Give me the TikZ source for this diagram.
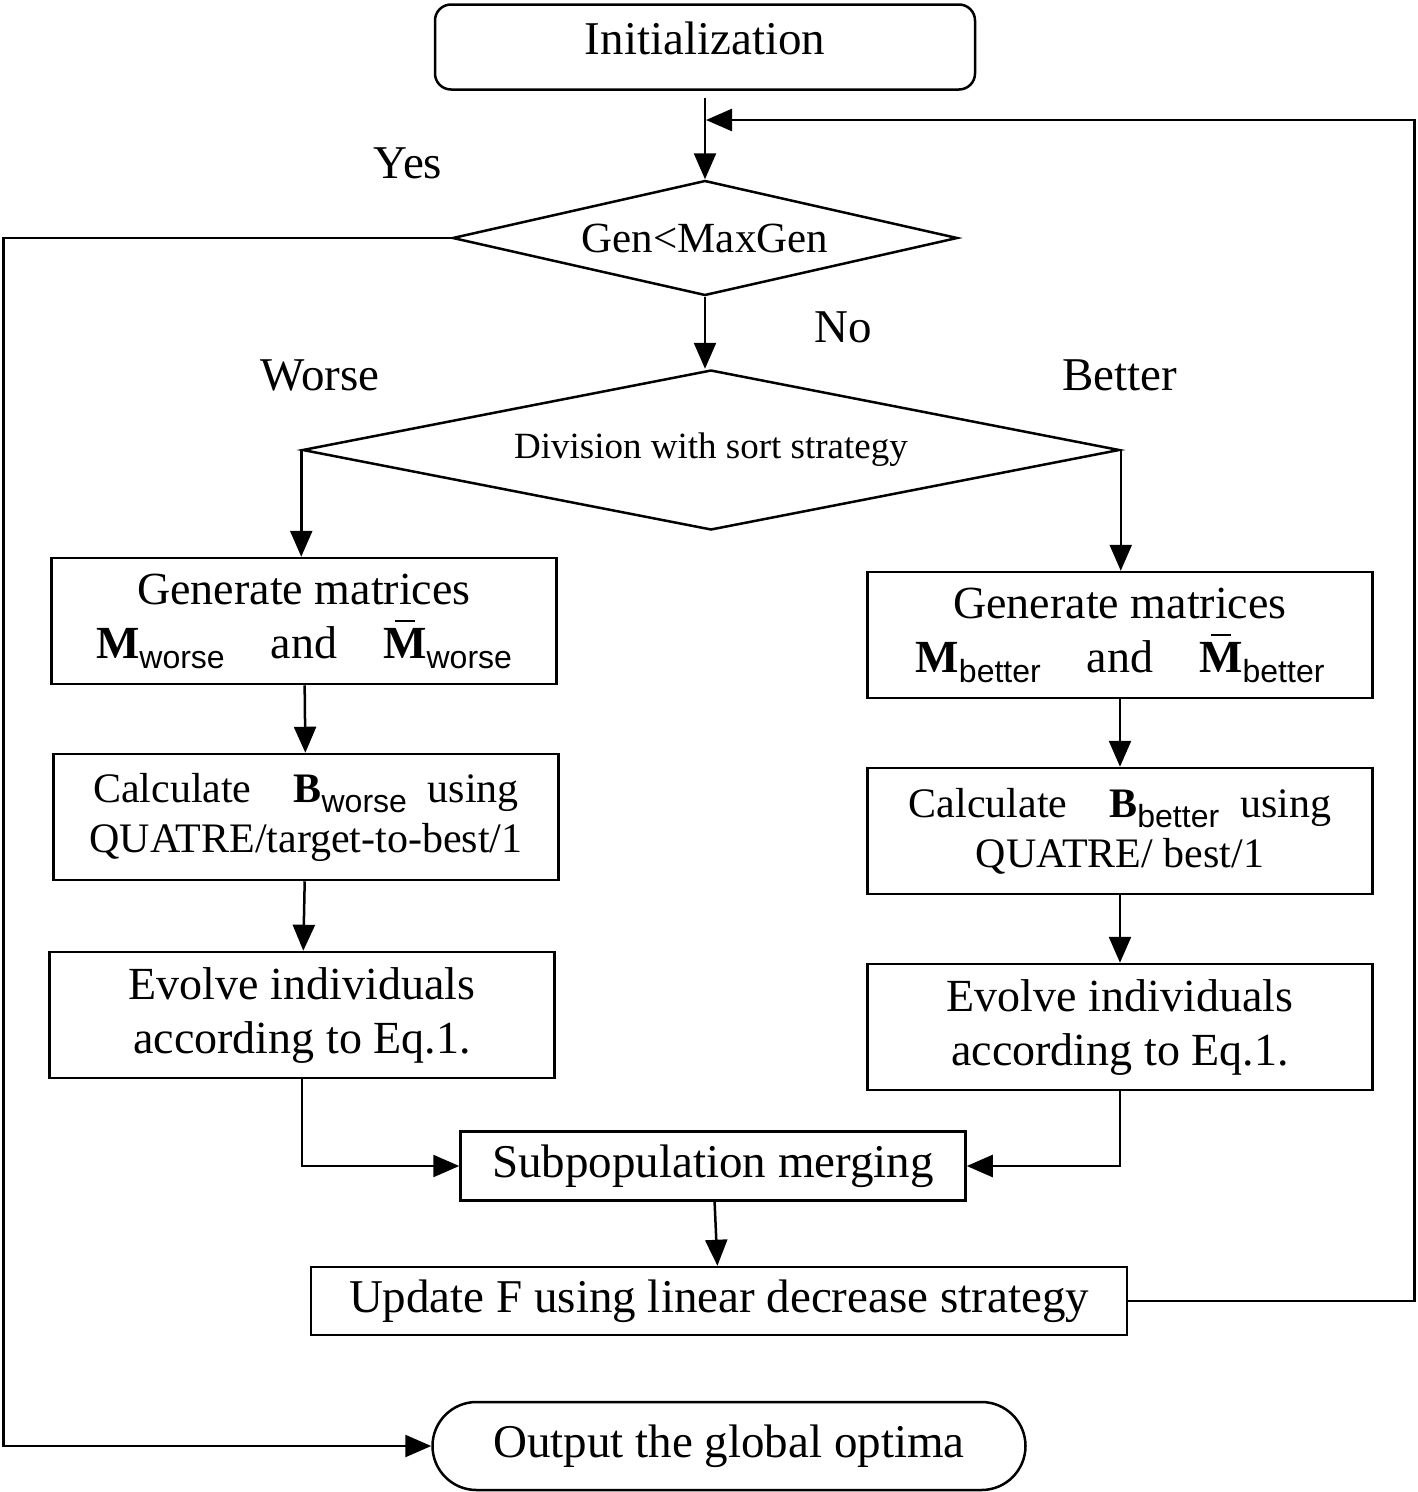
\documentclass[tikz,border=0pt]{standalone}
\usepackage{fontspec}
\setmainfont{Liberation Serif}
\newfontfamily\subfont{Liberation Sans}
\usepackage{tikz}
\usetikzlibrary{arrows.meta,shapes.geometric,calc}

\newcommand{\sbw}[1]{\raisebox{-10pt}{\subfont\fontsize{32}{32}\selectfont #1}}
\newcommand{\mbar}{\hbox{\ooalign{\textbf{M}\cr\hidewidth\raisebox{36pt}{\rule{20pt}{2.5pt}}\hidewidth\cr}}}

\tikzset{
  wire/.style={line width=2.5pt},
  arr/.style={wire, -{Triangle[length=26pt,width=22pt]}},
  stepbox/.style={draw, wire, rectangle, minimum width=505pt, minimum height=126pt, align=center, inner sep=0pt},
  cond/.style={draw, wire, diamond, inner sep=0pt},
  bigtxt/.style={font=\fontsize{47}{54}\selectfont},
  midtxt/.style={font=\fontsize{46}{54}\selectfont},
  calctxt/.style={font=\fontsize{42}{50}\selectfont},
  divtxt/.style={font=\fontsize{37}{44}\selectfont},
}

\begin{document}
\begin{tikzpicture}[x=1pt,y=-1pt]
      \useasboundingbox (0,0) rectangle (1418,1492);

      \node[draw, wire, rounded corners=16pt, minimum width=540pt, minimum height=85pt, text depth=18pt, bigtxt] (init) at (705,47) {Initialization};
      \node[cond, minimum width=505pt, minimum height=115pt, aspect=4.4, font=\fontsize{43}{50}\selectfont] (gen) at (705,238) {Gen<MaxGen};
      \node[cond, minimum width=817pt, minimum height=160pt, aspect=5.1, divtxt] (div) at (711,450) {Division with sort strategy};

      % worse branch
      \node[stepbox, midtxt] (wgen) at (304,621) {Generate matrices\\ \textbf{M}\sbw{worse}\quad and\quad \mbar\sbw{worse}};
      \node[stepbox, calctxt] (wcalc) at (306,817) {Calculate\quad \textbf{B}\sbw{worse}\ \ using\\ QUATRE/target-to-best/1};
      \node[stepbox, midtxt] (wevo) at (302,1015) {Evolve individuals\\ according to Eq.1.};

      % better branch
      \node[stepbox, midtxt] (bgen) at (1120,635) {Generate matrices\\ \textbf{M}\sbw{better}\quad and\quad \mbar\sbw{better}};
      \node[stepbox, calctxt] (bcalc) at (1120,831) {Calculate\quad \textbf{B}\sbw{better}\ \ using\\ QUATRE/ best/1};
      \node[stepbox, midtxt] (bevo) at (1120,1027) {Evolve individuals\\ according to Eq.1.};

      \node[draw, wire, minimum width=505pt, minimum height=69pt, inner sep=0pt, bigtxt] (merge) at (713,1166) {Subpopulation merging};
      \node[draw, wire, minimum width=816pt, minimum height=68pt, inner sep=0pt, bigtxt] (upd) at (719,1301) {Update F using linear decrease strategy};
      \node[draw, wire, rounded corners=44pt, minimum width=593pt, minimum height=88pt, inner sep=0pt, bigtxt] (out) at (729,1446) {Output the global optima};

      \node[bigtxt] (yes) at (408,163) {Yes};
      \node[bigtxt] (no) at (843,327) {No};
      \node[bigtxt] (worse) at (320,375) {Worse};
      \node[bigtxt] (better) at (1120,375) {Better};

      \coordinate (back) at (706,120);

      \draw[arr] ($(init.south)+(0,7)$) -- (gen.north);
      \draw[arr] (upd.east) -- ++(286,0) |- (back);
      \draw[arr] (gen.west) -- ++(-448,0) |- (out.west);
      \draw[arr] (gen.south) -- (gen.south |- div.north);
      \draw[arr] (div.west) -- (div.west |- wgen.north);
      \draw[arr] (div.east) -- (div.east |- bgen.north);
      \draw[arr] (wgen) -- (wcalc);
      \draw[arr] (wcalc) -- (wevo);
      \draw[arr] (bgen) -- (bcalc);
      \draw[arr] (bcalc) -- (bevo);
      \draw[arr] (wevo.south) |- (merge.west);
      \draw[arr] (bevo.south) |- (merge.east);
      \draw[arr] (merge) -- (upd);
    \end{tikzpicture}
\end{document}
